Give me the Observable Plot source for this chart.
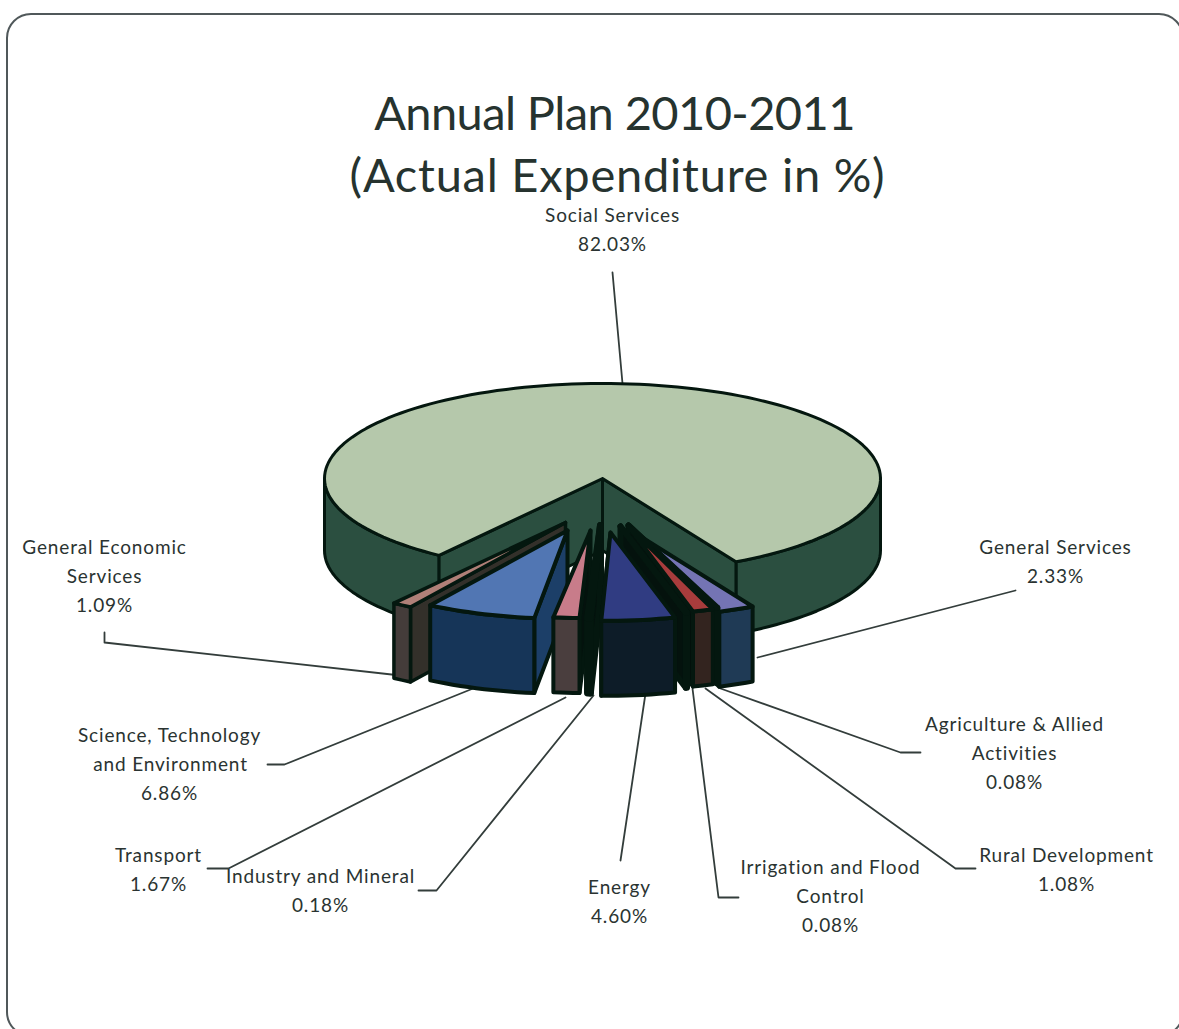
<!DOCTYPE html>
<html><head><meta charset="utf-8">
<script src="https://cdn.jsdelivr.net/npm/d3@7"></script>
<script src="https://cdn.jsdelivr.net/npm/@observablehq/plot@0.6"></script>
<style>html,body{margin:0;padding:0;background:#fff}svg{display:block}
.lbl text{letter-spacing:.85px}.t0 text{letter-spacing:-.6px}.t1 text{letter-spacing:.75px}</style>
</head><body><div id="chart"></div>
<script>
// --- data
const categories = ["Social Services","General Economic\nServices","Science, Technology\nand Environment","Transport","Industry and Mineral","Energy","Irrigation and Flood\nControl","Rural Development","Agriculture & Allied\nActivities","General Services"];
const shares = [82.03,1.09,6.86,1.67,0.18,4.60,0.08,1.08,0.08,2.33];
const titleLines = ["Annual Plan 2010-2011","(Actual Expenditure in %)"];
// --- styles
const topColors  = ["#b5c8ab","#b08078","#5176b3","#c87c8a","#04120d","#303c82","#04120d","#a83c3c","#04120d","#7474b4"];
const sideColors = ["#2b4f40","#443c3a","#163558","#4a3e3e","#04120d","#0d1c28","#04120d","#33241f","#2a1f1a","#1f3a55"];
const cutColors  = ["#2b4f40","#33302a","#1c3f68","#04120d","#04120d","#04120d","#04120d","#04120d","#04120d","#04120d"];
const strokeWidths = [3,3.5,4,4,7,4,6,4,6,4];
const ink = "#04170f";
// --- layout
const R = {rx:278, ry:95, depth:72, cx:602, cy:478};
const sliceDepth = 75;
const sliceScale = [1,1.05,0.93,0.9,0.9,0.93,0.9,1.107,0.9,0.9];
const rimOrigins = [null,[565,522],[567,530],[585,532],[593,532],[604,532],[617,530],[607,510],[630,527],[632,531]];
const tips = [null,[565,522],[567,530],[590,530],[600,525],[610,532],[620,526],[628,526],[628,525],[632,531]];
const labelPos = [
 [[612],215],[[104],547],[[169,170],735],[[158],855],[[320],876],
 [[619],887],[[830],867],[[1066],855],[[1014],724],[[1055],547]];
const leaders = [
 [[612,272],[622,383]],
 [[104,632],[104,642],[400,675]],
 [[267,764],[284,764],[480,685]],
 [[207,868],[228,868],[565,697]],
 [[418,890],[436,890],[593,695]],
 [[620,860],[645,693]],
 [[738,897],[718,897],[692,688]],
 [[975,868],[955,868],[705,688]],
 [[920,752],[900,752],[720,688]],
 [[1015,590],[757,657]]];

// angle measured from straight down, positive = towards the left
const toAngle = p => p * 3.6 * Math.PI / 180;
const rad = d => d * Math.PI / 180;
const sweep0 = rad(36);
const faces = [];
function face(id, pts, c, w){ [...pts, pts[0]].forEach(([x,y]) => faces.push({id, x, y, c, w})); }
function arc(cx,cy,k,a0,a1){
  const n = Math.max(2, Math.ceil(Math.abs(a1-a0)/rad(2)));
  return d3.range(n+1).map(i=>{const a=a0+(a1-a0)*i/n;
    return [cx-k*R.rx*Math.sin(a), cy+k*R.ry*Math.cos(a)];});
}
// main slice runs from the left corner, over the back, to the right corner
const a0 = sweep0, a1 = sweep0 + toAngle(shares[0]);
const ap = [R.cx,R.cy], w0 = strokeWidths[0];
const leftSide = arc(R.cx,R.cy,1,a0,rad(90));
const rightSide = arc(R.cx,R.cy,1,a1,rad(270));
const drop = (pts,d)=>pts.map(([x,y])=>[x,y+d]).reverse();
face("m-l",[...leftSide,...drop(leftSide,R.depth)],sideColors[0],w0);
face("m-r",[...rightSide,...drop(rightSide,R.depth)],sideColors[0],w0);
const cl = leftSide[0], cr = rightSide[0];
face("m-cl",[ap,cl,[cl[0],cl[1]+R.depth],[ap[0],ap[1]+R.depth]],cutColors[0],w0);
face("m-cr",[ap,cr,[cr[0],cr[1]+R.depth],[ap[0],ap[1]+R.depth]],cutColors[0],w0);
face("m-top",[ap,...arc(R.cx,R.cy,1,a0,a1)],topColors[0],w0);

// small slices: bounds from the cumulative shares, going from the left corner towards the right
let cum = 0;
const slices = shares.slice(1).map((s,i)=>{
  const from = sweep0 - toAngle(cum); cum += s;
  return {i:i+1, from, to: sweep0 - toAngle(cum)};
});
function sliceFaces(s, cutSide){
  const [ox,oy] = rimOrigins[s.i], [tx,ty] = tips[s.i], w = strokeWidths[s.i];
  const rim = arc(ox,oy,sliceScale[s.i],s.from,s.to);
  const edge = cutSide==="right" ? rim[rim.length-1] : rim[0];
  face("s"+s.i+"-cut",[[tx,ty],edge,[edge[0],edge[1]+sliceDepth],[tx,ty+sliceDepth]],cutColors[s.i],w);
  face("s"+s.i+"-front",[...rim,...drop(rim,sliceDepth)],sideColors[s.i],w);
  face("s"+s.i+"-top",[[tx,ty],...rim],topColors[s.i],w);
}
slices.slice(0,4).forEach(s=>sliceFaces(s,"right"));
slices.slice(4).reverse().forEach(s=>sliceFaces(s,"left"));
const faceMarks = d3.groups(faces,d=>d.id).map(([id,pts])=>
  Plot.line(pts,{x:"x",y:"y",fill:pts[0].c,stroke:ink,strokeWidth:pts[0].w,strokeLinejoin:"round",curve:"linear"}));

// labels
const labelRows = [];
categories.forEach((name,i)=>{
  const lines = [...name.split("\n"), shares[i].toFixed(2)+"%"];
  const [xs,y0] = labelPos[i];
  lines.forEach((t,j)=>labelRows.push({t, x: j===1 && xs.length>1 ? xs[1] : xs[0], y: y0 + j*29}));
});
const leaderRows = leaders.flatMap((l,i)=>l.map(([x,y])=>({id:i,x,y})));
const titleRows = titleLines.map((t,i)=>({t,x:i?617:614,y:114+i*62}));

const chart = Plot.plot({
  width:1179,height:1029,margin:0,
  x:{domain:[0,1179],range:[0,1179],axis:null},
  y:{domain:[0,1029],range:[0,1029],axis:null},
  style:{background:"#fff"},
  marks:[
    Plot.rect([{}],{x1:()=>7,x2:()=>1183,y1:()=>14,y2:()=>1036,rx:24,fill:"none",stroke:"#50585a",strokeWidth:2}),
    Plot.line(leaderRows,{x:"x",y:"y",z:"id",stroke:"#333d3b",strokeWidth:1.8}),
    ...faceMarks,
    Plot.text(titleRows.slice(0,1),{x:"x",y:"y",text:"t",fontFamily:"Lato",fontSize:47,fill:"#26332f",textAnchor:"middle",className:"t0"}),
    Plot.text(titleRows.slice(1),{x:"x",y:"y",text:"t",fontFamily:"Lato",fontSize:47,fill:"#26332f",textAnchor:"middle",className:"t1"}),
    Plot.text(labelRows,{x:"x",y:"y",text:"t",fontFamily:"Lato",fontSize:19,fill:"#2a3331",textAnchor:"middle",className:"lbl"})
  ]
});
document.getElementById("chart").append(chart);
</script></body></html>
